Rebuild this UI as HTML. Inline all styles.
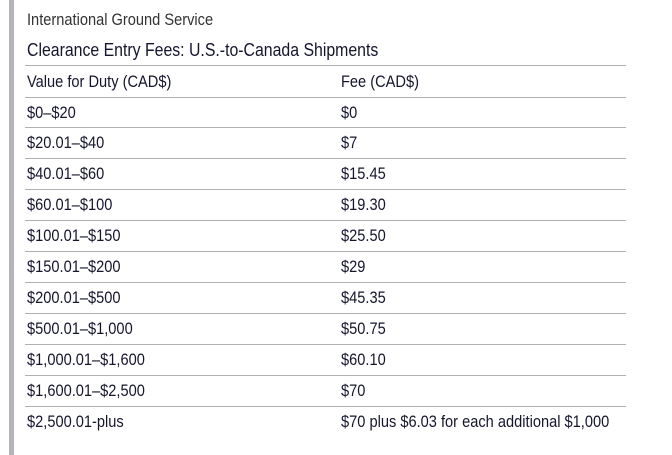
<!DOCTYPE html>
<html><head><meta charset="utf-8"><style>
body{margin:0;width:672px;height:455px;background:#fff;position:relative;overflow:hidden;font-family:"Liberation Sans",sans-serif;color:#15152e}
.bar{position:absolute;left:9px;top:0;width:5px;height:455px;background:#b4b4b8}
.t{position:absolute;font-size:17px;white-space:nowrap;transform:scaleX(0.86);transform-origin:0 0;line-height:19px}
.ln{position:absolute;left:25px;width:601px;height:1px;background:#b0b0b0}
</style></head><body>
<div class="bar"></div>
<div class="t" style="left:27px;top:10px;color:#333">International Ground Service</div>
<div class="t" style="left:27px;top:41px;font-size:18px;transform:scaleX(0.88)">Clearance Entry Fees: U.S.-to-Canada Shipments</div>
<div class="ln" style="top:65px"></div>
<div class="t" style="left:27px;top:72px">Value for Duty (CAD$)</div>
<div class="t" style="left:341px;top:72px">Fee (CAD$)</div>
<div id="rows"></div>
<script>
const values=["$0–$20","$20.01–$40","$40.01–$60","$60.01–$100","$100.01–$150","$150.01–$200","$200.01–$500","$500.01–$1,000","$1,000.01–$1,600","$1,600.01–$2,500","$2,500.01-plus"];
const fees=["$0","$7","$15.45","$19.30","$25.50","$29","$45.35","$50.75","$60.10","$70","$70 plus $6.03 for each additional $1,000"];
const rows=document.getElementById('rows');
for(let i=0;i<values.length;i++){
  const y=96.5+i*30.9;
  const l=document.createElement('div');
  l.className='ln';l.style.top=Math.round(y)+'px';
  
  
  rows.appendChild(l);
  const a=document.createElement('div');
  a.className='t';a.style.left='27px';a.style.top=Math.round(y+6)+'px';a.textContent=values[i];
  
  
  rows.appendChild(a);
  const b=document.createElement('div');
  b.className='t';b.style.left='341px';b.style.top=Math.round(y+6)+'px';b.textContent=fees[i];
  
  
  rows.appendChild(b);
}
</script>
</body></html>
